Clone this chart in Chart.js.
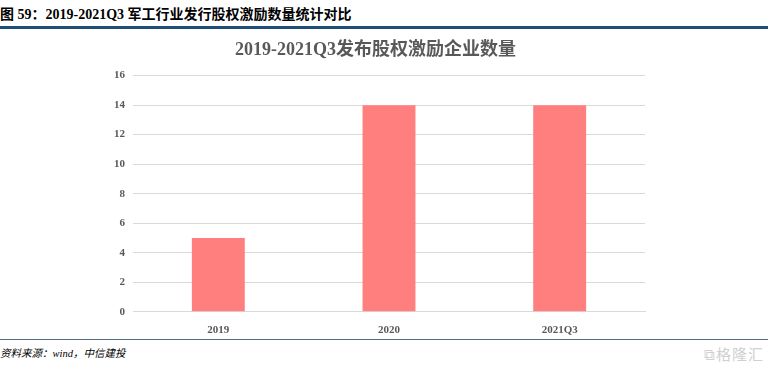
<!DOCTYPE html>
<html>
<head>
<meta charset="utf-8">
<script src="https://cdn.jsdelivr.net/npm/chart.js@4.4.0/dist/chart.umd.min.js"></script>
<style>
  body { margin: 0; width: 768px; height: 368px; background: #fff; position: relative; overflow: hidden; }
  #header { position: absolute; left: 0; top: 3px; font: bold 14px "Liberation Serif", "Noto Sans CJK SC"; color: #000; white-space: nowrap; }
  #topline { position: absolute; left: 0; top: 26px; width: 768px; height: 3px; background: #1f4e79; }
  #bottomline { position: absolute; left: 0; top: 339px; width: 768px; height: 1px; background: #4f6d8f; }
  #source { position: absolute; left: 0; top: 345px; font: italic 10.5px "Liberation Serif", "Noto Sans CJK SC"; color: #000; }
  #mark { position: absolute; right: 4px; top: 343px; font: 15px "Noto Sans CJK SC"; color: #d0d0d0; letter-spacing: 1px; }
  #box { position: absolute; left: 0; top: 30px; width: 768px; height: 311px; }
</style>
</head>
<body>
<div id="header">图 59：2019-2021Q3 军工行业发行股权激励数量统计对比</div>
<div id="topline"></div>
<div id="box"><canvas id="chart"></canvas></div>
<div id="bottomline"></div>
<div id="source">资料来源：wind，中信建投</div>
<div id="mark">⧉格隆汇</div>
<script>
const categories = ['2019', '2020', '2021Q3'];
const companies = [5, 14, 14];
const yTicks = [0, 2, 4, 6, 8, 10, 12, 14, 16];

const ctx = document.getElementById('chart').getContext('2d');
const myChart = new Chart(ctx, {
  type: 'bar',
  data: {
    labels: categories,
    datasets: [{
      label: '发布股权激励企业数量',
      data: companies,
      backgroundColor: '#ff7f7f',
      borderWidth: 0,
      categoryPercentage: 1.0,
      barPercentage: 0.31,
    }],
  },
  options: {
    responsive: true,
    maintainAspectRatio: false,
    animation: false,
    layout: { padding: { left: 106, right: 123, top: 10, bottom: 0 } },
    plugins: {
      legend: { display: false },
      tooltip: { enabled: false },
      title: {
        display: true,
        text: '2019-2021Q3发布股权激励企业数量',
        color: '#595959',
        font: { family: '"Liberation Serif", "Noto Sans CJK SC"', size: 18, weight: 'bold' },
        padding: { top: 0, bottom: 14 },
      },
    },
    scales: {
      x: {
        grid: { display: false },
        border: { color: '#d9d9d9' },
        ticks: {
          color: '#595959',
          padding: 4,
          font: { family: '"Liberation Serif"', size: 11, weight: 'bold' },
        },
      },
      y: {
        min: 0,
        max: 16,
        afterBuildTicks: (axis) => { axis.ticks = yTicks.map(v => ({ value: v })); },
        grid: { color: '#d9d9d9', drawTicks: false },
        border: { display: false },
        ticks: {
          color: '#595959',
          padding: 8,
          font: { family: '"Liberation Serif"', size: 11, weight: 'bold' },
        },
      },
    },
  },
});
</script>
</body>
</html>
